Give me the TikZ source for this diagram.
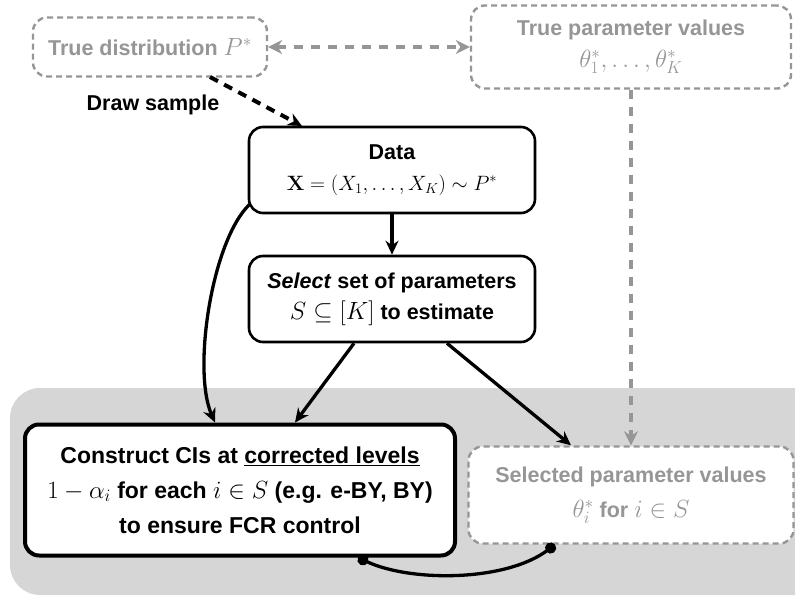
\documentclass[tikz,border=0pt]{standalone}
\usepackage[no-math]{fontspec}
\setmainfont{Liberation Sans}
\setsansfont{Liberation Sans}
\usetikzlibrary{arrows.meta}
\definecolor{dgray}{RGB}{150,150,150}
\definecolor{bggray}{RGB}{214,214,214}
\newcommand\mth[1]{{\fontsize{24}{30}\selectfont$#1$}}
\begin{document}
\begin{tikzpicture}[x=1pt,y=-1pt,
  every node/.style={font=\fontsize{21.5}{33}\selectfont\bfseries, align=center, inner sep=0pt},
  blackbox/.style={draw=black, line width=2.6pt, rounded corners=14pt, fill=white},
  graybox/.style={draw=dgray, line width=2.4pt, dash pattern=on 6pt off 4pt, rounded corners=14pt, fill=white, text=dgray},
  arr/.style={line width=3.3pt, -{Stealth[length=14pt,width=13pt]}},
  garr/.style={draw=dgray, line width=4pt, dash pattern=on 9pt off 8pt, -{Stealth[length=14pt,width=14pt,fill=dgray]}},
  dotend/.style={line width=3.3pt, {Circle[length=11pt]}-{Circle[length=11pt]}}
]
\useasboundingbox (0,0) rectangle (795,599);
\fill[bggray, rounded corners=30pt] (10,388) rectangle (825,595);

\node[graybox, minimum width=234pt, minimum height=59pt] (tdist) at (150,47) {True distribution \mth{P^*}};
\node[graybox, minimum width=320pt, minimum height=83pt] (tparam) at (631,47) {True parameter values\\[-1pt] \mth{\theta_1^*, \ldots, \theta_K^*}};
\node[blackbox, minimum width=286pt, minimum height=86pt] (data) at (392,170) {Data\\[-2pt] {\fontsize{22}{30}\selectfont$\mathbf{X} = (X_1, \ldots, X_K) \sim P^*$}};
\node[blackbox, minimum width=286pt, minimum height=86pt] (select) at (392,299) {\textit{Select} set of parameters\\[-2pt] \mth{S \subseteq [K]} to estimate};
\node[blackbox, line width=4pt, minimum width=430pt, minimum height=131pt, font=\fontsize{23}{35}\selectfont\bfseries] (construct) at (240,490) {Construct CIs at \underline{corrected levels}\\ {\fontsize{26}{30}\selectfont$1-\alpha_i$} for each {\fontsize{26}{30}\selectfont$i\in S$} (e.g. e-BY, BY)\\ to ensure FCR control};
\node[graybox, minimum width=325pt, minimum height=97pt] (selparam) at (631,495) {Selected parameter values\\[2pt] \mth{\theta_i^*} for \mth{i \in S}};
\node (dslabel) at (153,105) {Draw sample};

\coordinate (dsA) at (210,77);
\coordinate (dsB) at (302,126);
\draw[line width=4pt, dash pattern=on 9pt off 7pt, -{Stealth[length=14pt,width=13pt]}] (dsA) -- (dsB);

\draw[garr, {Stealth[length=14pt,width=14pt,fill=dgray]}-{Stealth[length=14pt,width=14pt,fill=dgray]}] (tdist.east) -- (tparam.west);
\draw[garr] (tparam.south) -- (tparam.south |- selparam.north);

\draw[arr] (data.south) -- (select.north);
\draw[arr] ([xshift=2pt,yshift=10pt]data.south west) .. controls (212,240) and (192,370) .. ([xshift=-25pt]construct.north);
\draw[arr] ([xshift=-38pt]select.south) -- ([xshift=55pt]construct.north);
\draw[arr] ([xshift=55pt]select.south) -- ([xshift=-60pt]selparam.north);

\draw[dotend] ([xshift=118pt]construct.south) .. controls (410,582) and (505,582) .. ([xshift=-76pt]selparam.south);
\end{tikzpicture}
\end{document}
